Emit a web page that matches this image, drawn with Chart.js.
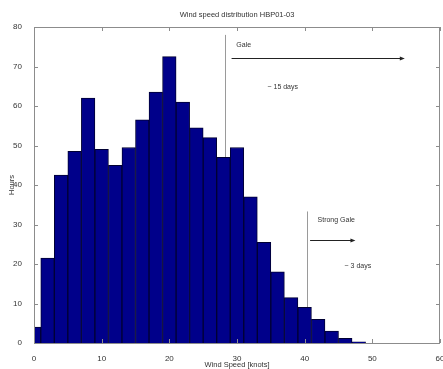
<!DOCTYPE html>
<html>
<head>
<meta charset="utf-8">
<script src="https://cdn.jsdelivr.net/npm/chart.js@4"></script>
<style>
  html, body { margin: 0; padding: 0; background: #fff; }
  #wrap { width: 443px; height: 369px; }
</style>
</head>
<body>
<div id="wrap"><canvas id="windChart" width="443" height="369"></canvas></div>
<script>
// --- data (2-knot bins, centred on even speeds) ---
const speeds = [0, 2, 4, 6, 8, 10, 12, 14, 16, 18, 20, 22, 24, 26, 28, 30, 32, 34, 36, 38, 40, 42, 44, 46, 48];
const hours = [4, 21.5, 42.5, 48.5, 62, 49, 45, 49.5, 56.5, 63.5, 72.5, 61, 54.5, 52, 47, 49.5, 37, 25.5, 18, 11.5, 9, 6, 3, 1.2, 0.3];
const xTicks = [0, 10, 20, 30, 40, 50, 60];
const yTicks = [0, 10, 20, 30, 40, 50, 60, 70, 80];

// annotation markers (in knots / hours)
const galeLine = { x: 28.2, top: 78 };
const strongGaleLine = { x: 40.4, top: 33.3 };
const galeArrow = { from: 29.2, to: 54.8, y: 72.1 };
const strongGaleArrow = { from: 40.8, to: 47.5, y: 26.2 };
const labels = [
  { text: "Gale", x: 29.9, y: 75.4 },
  { text: "~ 15 days", x: 34.5, y: 64.9 },
  { text: "Strong Gale", x: 41.9, y: 31 },
  { text: "~ 3 days", x: 45.9, y: 19.5 },
];

const FONT = "'Liberation Sans', Arial, sans-serif";
const TEXT = "#333";

// box, inward ticks, title and the gale annotations
const decorations = {
  id: "decorations",
  beforeDatasetsDraw(chart) {
    const { ctx, scales: { x, y } } = chart;
    ctx.save();
    ctx.strokeStyle = "#9a9a9a";
    ctx.lineWidth = 1;
    [galeLine, strongGaleLine].forEach((l) => {
      const px = Math.round(x.getPixelForValue(l.x)) + 0.5;
      ctx.beginPath();
      ctx.moveTo(px, y.getPixelForValue(l.top));
      ctx.lineTo(px, y.getPixelForValue(0));
      ctx.stroke();
    });
    ctx.restore();
  },
  afterDatasetsDraw(chart) {
    const { ctx, chartArea: a, scales: { x, y } } = chart;
    ctx.save();

    // axes box
    ctx.strokeStyle = "#8c8c8c";
    ctx.lineWidth = 1;
    ctx.strokeRect(Math.round(a.left) + 0.5, Math.round(a.top) + 0.5,
      Math.round(a.right - a.left) - 1, Math.round(a.bottom - a.top));

    // inward tick marks on all four sides
    const len = 4;
    ctx.beginPath();
    xTicks.forEach((v) => {
      const px = Math.round(x.getPixelForValue(v)) + 0.5;
      ctx.moveTo(px, a.bottom); ctx.lineTo(px, a.bottom - len);
      ctx.moveTo(px, a.top); ctx.lineTo(px, a.top + len);
    });
    yTicks.forEach((v) => {
      const py = Math.round(y.getPixelForValue(v)) + 0.5;
      ctx.moveTo(a.left, py); ctx.lineTo(a.left + len, py);
      ctx.moveTo(a.right, py); ctx.lineTo(a.right - len, py);
    });
    ctx.stroke();

    // arrows
    ctx.strokeStyle = "#222";
    ctx.fillStyle = "#222";
    [galeArrow, strongGaleArrow].forEach((ar) => {
      const x1 = x.getPixelForValue(ar.from);
      const x2 = x.getPixelForValue(ar.to);
      const py = Math.round(y.getPixelForValue(ar.y)) + 0.5;
      ctx.beginPath();
      ctx.moveTo(x1, py);
      ctx.lineTo(x2 - 4, py);
      ctx.stroke();
      ctx.beginPath();
      ctx.moveTo(x2, py);
      ctx.lineTo(x2 - 5, py - 2);
      ctx.lineTo(x2 - 5, py + 2);
      ctx.closePath();
      ctx.fill();
    });

    // annotation text
    ctx.fillStyle = TEXT;
    ctx.font = "7px " + FONT;
    ctx.textAlign = "left";
    ctx.textBaseline = "middle";
    labels.forEach((l) => {
      ctx.fillText(l.text, x.getPixelForValue(l.x), y.getPixelForValue(l.y));
    });

    // title centred over the plot
    ctx.font = "7.5px " + FONT;
    ctx.textAlign = "center";
    ctx.fillText("Wind speed distribution HBP01-03", (a.left + a.right) / 2, 15);
    ctx.restore();
  },
};

const ctx = document.getElementById("windChart");

new Chart(ctx, {
  type: "bar",
  data: {
    datasets: [
      {
        label: "Hours",
        data: speeds.map((s, i) => ({ x: s, y: hours[i] })),
        backgroundColor: "#00008a",
        borderColor: "#000033",
        borderWidth: 1,
        barPercentage: 1,
        categoryPercentage: 1,
      },
    ],
  },
  options: {
    responsive: false,
    animation: false,
    layout: { padding: { top: 27, right: 3, left: 0, bottom: 0 } },
    scales: {
      x: {
        type: "linear",
        min: 0,
        max: 60,
        offset: false,
        grid: { display: false, offset: false },
        border: { display: false },
        ticks: {
          stepSize: 10,
          maxRotation: 0,
          padding: 3,
          color: TEXT,
          font: { family: FONT, size: 8 },
        },
        title: {
          display: true,
          text: "Wind Speed [knots]",
          color: TEXT,
          font: { family: FONT, size: 7.5 },
          padding: { top: 0, bottom: 0 },
        },
        afterFit(scale) {
          scale.height = 26;
          scale.paddingLeft = 0;
          scale.paddingRight = 0;
        },
      },
      y: {
        min: 0,
        max: 80,
        grid: { display: false },
        border: { display: false },
        ticks: {
          stepSize: 10,
          padding: 4,
          color: TEXT,
          font: { family: FONT, size: 8 },
        },
        title: {
          display: true,
          text: "Hours",
          color: TEXT,
          font: { family: FONT, size: 7.5 },
          padding: { top: 7, bottom: 0 },
        },
        afterFit(scale) {
          scale.width = 34;
          scale.paddingTop = 0;
          scale.paddingBottom = 0;
        },
      },
    },
    plugins: {
      legend: { display: false },
      tooltip: { enabled: false },
    },
  },
  plugins: [decorations],
});
</script>
</body>
</html>
